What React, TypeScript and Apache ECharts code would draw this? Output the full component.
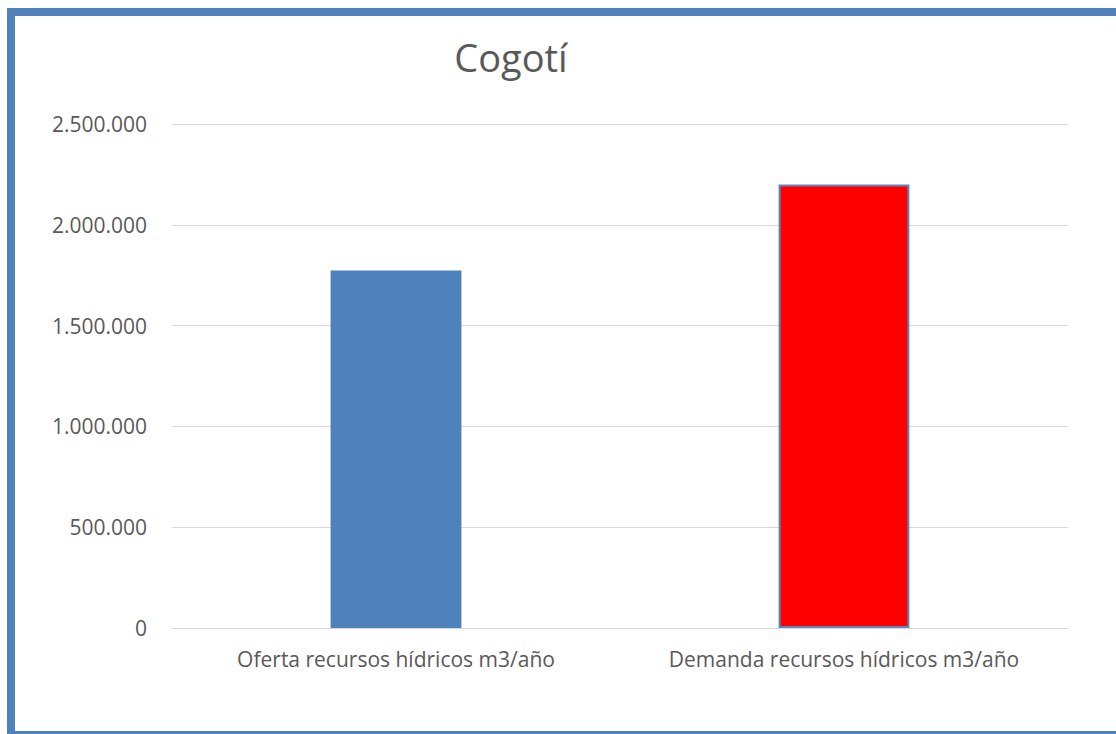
import React, { useEffect, useRef } from "react";
import * as echarts from "echarts";

const categories = ["Oferta recursos hídricos m3/año", "Demanda recursos hídricos m3/año"];
const values = [1773000, 2200000];
const barColors = ["#4F81BD", "#FF0000"];
const titleText = "Cogotí";

function fmt(v: number): string {
  return String(Math.round(v)).replace(/\B(?=(\d{3})+(?!\d))/g, ".");
}

export default function App() {
  const ref = useRef<HTMLDivElement>(null);
  useEffect(() => {
    const chart = echarts.init(ref.current!, null, { renderer: "svg" });
    chart.setOption({
      animation: false,
      backgroundColor: "#ffffff",
      title: {
        text: titleText,
        left: 506,
        top: 33,
        textAlign: "center",
        textStyle: { fontFamily: "Open Sans", fontSize: 38, fontWeight: "normal", color: "#595959" },
      },
      graphic: [
        {
          type: "rect",
          shape: { x: 11, y: 12, width: 1130, height: 723 },
          style: { fill: "none", stroke: "#4F81BD", lineWidth: 8 },
          silent: true,
        },
      ],
      grid: { left: 172, right: 48, top: 124, bottom: 106, containLabel: false },
      xAxis: {
        type: "category",
        data: categories,
        axisLine: { show: true, lineStyle: { color: "#d9d9d9", width: 1 } },
        axisTick: { show: false },
        axisLabel: { interval: 0, hideOverlap: false, fontFamily: "Open Sans", fontSize: 21, color: "#595959", margin: 20 },
      },
      yAxis: {
        type: "value",
        min: 0,
        max: 2500000,
        interval: 500000,
        axisLine: { show: false },
        axisTick: { show: false },
        splitLine: { lineStyle: { color: "#d9d9d9", width: 1 } },
        axisLabel: { fontFamily: "Open Sans", fontSize: 21, color: "#595959", margin: 25, formatter: (v: number) => fmt(v) },
      },
      series: [
        {
          type: "bar",
          barWidth: "29.2%",
          data: values.map((v, i) => ({
            value: v,
            itemStyle: {
              color: barColors[i],
              borderColor: i === 1 ? "#5B87C4" : barColors[i],
              borderWidth: i === 1 ? 2 : 0,
            },
          })),
        },
      ],
    });
    return () => chart.dispose();
  }, []);
  return (
    <div style={{ position: "fixed", left: 0, top: 0, width: 1116, height: 734, overflow: "hidden" }}>
      <div ref={ref} style={{ width: 1116, height: 734 }} />
    </div>
  );
}
